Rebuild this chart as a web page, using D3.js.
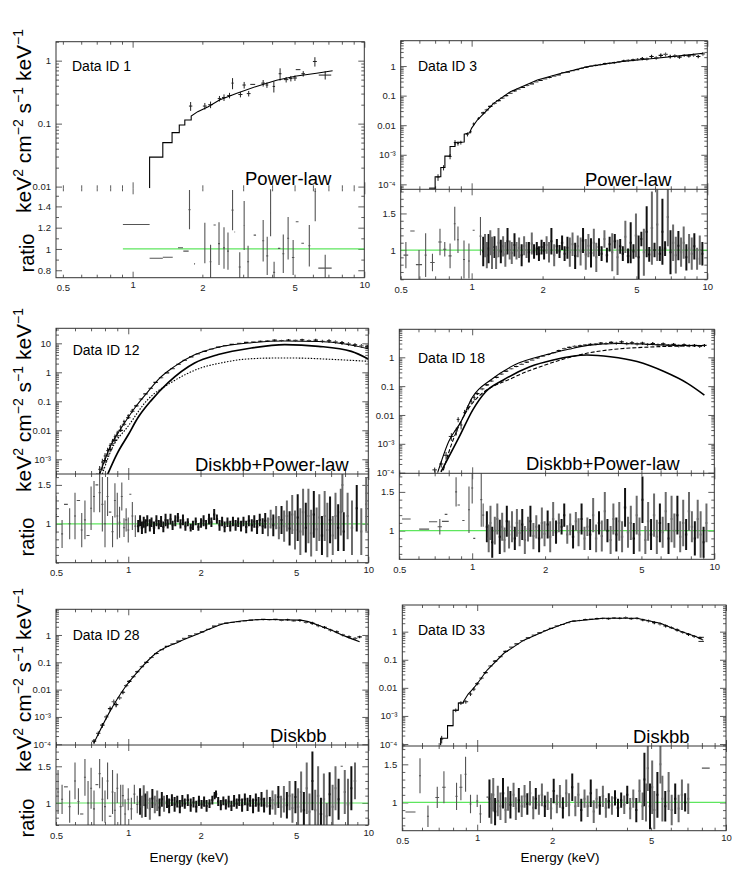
<!DOCTYPE html>
<html>
<head>
<meta charset="utf-8">
<script src="https://cdn.jsdelivr.net/npm/d3@7"></script>
<style>
body { margin: 0; background: #fff; }
svg { font-family: "Liberation Sans", Arial, sans-serif; }
</style>
</head>
<body>
<svg id="chart" width="747" height="872"></svg>
<script>
// ---- tick labels ----
const X_LABELS = [0.5, 1, 2, 5, 10];
const LOG_LABELS = {"10": "10", "1": "1", "0.1": "0.1", "0.01": "0.01", "0.001": "10\u207B\u00B3", "0.0001": "10\u207B\u2074"};

// ---- Data ID 1 (power-law) ----
const p1Model = [[1.184,0.0094],[1.184,0.0294],[1.35,0.0294],[1.35,0.05],[1.48,0.05],[1.48,0.072],[1.59,0.072],[1.59,0.095],[1.68,0.095],[1.68,0.114],[1.79,0.114],[1.79,0.132],[1.91,0.155],[2.12,0.186],[2.37,0.238],[2.8,0.30],[3.42,0.39],[4.18,0.49],[5.1,0.57],[6.22,0.63],[7.3,0.69]];
// [E, dE, flux, fracErr]
const p1Spec = [[1.78,0.03,0.19,0.16],[2.05,0.04,0.19,0.12],[2.17,0.05,0.2,0.12],[2.37,0.04,0.25,0.1],[2.48,0.05,0.26,0.12],[2.62,0.06,0.28,0.1],[2.7,0.03,0.44,0.2],[2.92,0.06,0.29,0.1],[3.03,0.05,0.41,0.12],[3.17,0.06,0.3,0.1],[3.3,0.08,0.42,0],[3.66,0.07,0.44,0.12],[3.8,0.05,0.41,0.1],[4.07,0.05,0.39,0.2],[4.33,0.06,0.62,0.22],[4.6,0.1,0.5,0.1],[4.82,0.08,0.52,0.1],[5.02,0.1,0.53,0.1],[5.18,0.12,0.72,0],[5.45,0.1,0.62,0.1],[6.12,0.12,0.97,0.17],[6.78,0.42,0.59,0.15]];
// [E, dE, ratio, err]
const p1Ratio = [[1.046,0.138,1.23,0],[1.267,0.083,0.913,0],[1.42,0.07,0.922,0],[1.61,0.04,1.012,0],[1.7,0.045,0.98,0],[1.76,0,1.37,0.185],[1.85,0.01,0.86,0],[2.05,0.01,1.056,0.19],[2.17,0.02,0.88,0.16],[2.26,0.025,1.225,0],[2.36,0,1.05,0.2],[2.48,0,1.01,0.195],[2.58,0,0.98,0.175],[2.7,0,1.365,0.19],[2.76,0.01,1.16,0],[2.9,0.03,0.83,0.14],[3.03,0.02,1.22,0.23],[3.15,0,0.88,0.15],[3.37,0.04,1.13,0],[3.66,0,1.077,0.195],[3.81,0,0.935,0.18],[3.94,0.02,1.34,0.22],[4.08,0,0.78,0.1],[4.29,0.05,1.006,0],[4.47,0,0.955,0.18],[4.69,0,1.1,0.2],[4.93,0.06,0.92,0.165],[5.13,0.07,1.256,0],[5.42,0.07,1.053,0],[5.79,0,1.03,0.195],[6.14,0.05,1.54,0.28],[6.78,0.45,0.82,0.125]];

// ---- Data ID 3 (power-law) ----
const p2Model = [[0.66,7e-5],[0.7,7e-5],[0.7,1.8e-4],[0.74,1.8e-4],[0.74,3.7e-4],[0.77,3.7e-4],[0.77,9e-4],[0.81,9e-4],[0.81,1.9e-3],[0.85,1.9e-3],[0.85,2.6e-3],[0.93,2.7e-3],[0.93,5e-3],[0.98,5.5e-3],[1.0,8e-3],[1.057,0.015],[1.24,0.055],[1.46,0.136],[1.9,0.34],[2.38,0.56],[3.09,0.95],[4.27,1.4],[5.9,1.8],[8.16,2.35],[9.6,2.7]];
const p2SpecLow = [[0.68,0.02,7.5e-5,0],[0.72,0.012,1.75e-4,0.25],[0.76,0.012,3.7e-4,0.2],[0.81,0.012,8.8e-4,0.2],[0.85,0.01,2.6e-3,0.2],[0.875,0.01,2.4e-3,0.15],[0.9,0.012,2.6e-3,0.15],[0.96,0.012,4.9e-3,0.15],[0.99,0.01,6e-3,0.12],[1.02,0.012,0.011,0.12],[1.07,0.012,0.017,0.1]];
// [E, flux, fracErr]
const p2Spec = [[1.12,0.026,0.1],[1.16,0.033,0.1],[1.2,0.043,0.08],[1.25,0.055,0.08],[1.3,0.068,0.07],[1.35,0.082,0.07],[1.4,0.1,0.06],[1.46,0.12,0.06],[1.52,0.145,0.06],[1.58,0.165,0.05],[1.65,0.19,0.05],[1.72,0.22,0.05],[1.8,0.25,0.05],[1.88,0.29,0.05],[1.96,0.33,0.05],[2.05,0.37,0.05],[2.14,0.41,0.05],[2.24,0.46,0.05],[2.34,0.5,0.05],[2.45,0.6,0.05],[2.56,0.62,0.05],[2.68,0.7,0.05],[2.8,0.76,0.06],[2.93,0.84,0.06],[3.07,0.92,0.06],[3.21,1.0,0.06],[3.36,1.06,0.07],[3.52,1.12,0.07],[3.68,1.2,0.07],[3.85,1.25,0.08],[4.03,1.3,0.08],[4.22,1.38,0.08],[4.42,1.5,0.09],[4.62,1.55,0.09],[4.84,1.62,0.1],[5.06,1.7,0.1],[5.3,1.8,0.12],[5.54,1.75,0.12],[5.8,2.1,0.14],[6.07,1.9,0.14],[6.35,2.3,0.16],[6.65,2.5,0.16],[6.96,2.1,0.15],[7.28,2.2,0.14],[7.62,2.0,0.12],[7.98,2.3,0.12],[8.35,2.2,0.12],[8.74,2.35,0.12],[9.15,2.1,0.12],[9.58,2.6,0.14]];
const p2RatioLow = [[0.526,0.012,0.93,0.18],[0.561,0.012,1.26,0],[0.598,0.018,0.8,0.2],[0.638,0,0.93,0.3],[0.682,0.015,0.83,0.12],[0.734,0.012,1.11,0.18],[0.769,0.012,1.01,0.1],[0.81,0.012,0.92,0.17],[0.848,0.008,1.36,0.23],[0.875,0.008,1.14,0.18],[0.928,0,0.87,0.26],[0.974,0,0.85,0.24],[1.02,0.01,1.27,0],[1.09,0,1.19,0.26]];
// [E, ratio, err]
const p2Ratio = [[1.12,0.98,0.2],[1.14,1.06,0.16],[1.16,0.93,0.18],[1.18,1.02,0.2],[1.2,1.1,0.17],[1.22,0.96,0.22],[1.25,1.04,0.15],[1.27,0.9,0.16],[1.3,1.1,0.2],[1.33,0.98,0.16],[1.36,1.05,0.14],[1.39,0.94,0.17],[1.42,1.12,0.18],[1.45,1.0,0.13],[1.48,0.96,0.15],[1.52,1.07,0.16],[1.55,0.99,0.12],[1.59,1.03,0.14],[1.63,0.93,0.15],[1.67,1.06,0.13],[1.71,1.0,0.11],[1.75,0.97,0.14],[1.8,1.09,0.15],[1.84,0.98,0.1],[1.89,1.02,0.09],[1.93,0.95,0.1],[1.98,1.04,0.1],[2.03,0.99,0.12],[2.08,1.07,0.12],[2.13,0.97,0.14],[2.18,1.12,0.18],[2.24,0.93,0.15],[2.3,1.05,0.1],[2.36,0.98,0.09],[2.42,1.1,0.1],[2.48,0.95,0.1],[2.55,1.03,0.15],[2.61,0.97,0.2],[2.68,1.08,0.16],[2.75,0.92,0.18],[2.82,1.05,0.15],[2.9,0.98,0.19],[2.97,1.13,0.17],[3.05,0.94,0.21],[3.13,1.06,0.16],[3.21,0.96,0.2],[3.3,1.1,0.19],[3.38,0.9,0.2],[3.47,1.04,0.12],[3.56,0.95,0.1],[3.66,1.15,0.12],[3.75,0.93,0.1],[3.85,1.08,0.1],[3.95,0.97,0.26],[4.05,1.12,0.1],[4.16,0.9,0.24],[4.27,1.05,0.1],[4.38,0.95,0.1],[4.49,1.18,0.22],[4.61,0.92,0.1],[4.73,1.1,0.28],[4.86,0.98,0.1],[4.98,1.2,0.3],[5.11,0.9,0.3],[5.25,1.15,0.1],[5.38,0.97,0.32],[5.53,1.25,0.35],[5.67,0.94,0.1],[5.82,1.3,0.5],[5.97,1.0,0.1],[6.13,1.35,0.5],[6.29,0.95,0.1],[6.45,1.25,0.45],[6.62,1.02,0.1],[6.8,1.45,0.4],[6.98,0.97,0.3],[7.16,1.1,0.25],[7.35,0.93,0.25],[7.54,1.06,0.2],[7.74,0.97,0.2],[7.94,1.1,0.22],[8.15,0.9,0.18],[8.37,1.02,0.2],[8.59,0.95,0.22],[8.81,1.05,0.18],[9.05,0.88,0.15],[9.29,1.0,0.2],[9.53,0.95,0.16]];

// ---- Data ID 12 (diskbb + power-law) ----
const p3Total = [[0.76,3e-4],[0.852,3.4e-3],[0.938,0.0125],[1.066,0.06],[1.25,0.3],[1.33,0.55],[1.56,1.6],[1.89,4.0],[2.37,7.3],[3.26,10.5],[4.49,12.0],[6.2,11.5],[8.0,9.5],[10,6.5]];
const p3Disk = [[0.82,3e-4],[0.9,1.6e-3],[1.0,7e-3],[1.1,0.028],[1.25,0.11],[1.47,0.45],[1.89,2.1],[2.37,4.1],[3.26,6.9],[4.49,9],[6.2,7.9],[8.5,5.3],[10,2.9]];
const p3Pow = [[0.78,3.1e-4],[0.85,2.1e-3],[1.0,0.014],[1.2,0.11],[1.5,0.43],[2.0,1.4],[2.5,2.2],[3,2.8],[4,3.1],[5,3.1],[7,2.8],[10,2.4]];
const p3SpecLow = [[0.74,0.01,2.5e-4,0.3],[0.76,0.01,4.5e-4,0.3],[0.78,0.01,8e-4,0.3],[0.8,0.01,1.3e-3,0.25],[0.82,0.01,2e-3,0.25],[0.84,0.01,3e-3,0.2],[0.86,0.01,4.2e-3,0.2],[0.88,0.01,6e-3,0.2],[0.9,0.01,8e-3,0.2],[0.93,0.01,0.013,0.15],[0.96,0.01,0.02,0.15],[1.0,0.01,0.032,0.12],[1.04,0.01,0.05,0.1]];
const p3Spec = [[0.76,3e-4,0.2],[0.78,5e-4,0.2],[0.8,9e-4,0.2],[0.82,1.5e-3,0.2],[0.84,2.2e-3,0.18],[0.86,3.5e-3,0.18],[0.88,4.5e-3,0.15],[0.9,6.5e-3,0.15],[0.93,0.01,0.12],[0.96,0.016,0.12],[1.0,0.027,0.1],[1.04,0.045,0.1],[1.08,0.07,0.08],[1.13,0.12,0.08],[1.18,0.18,0.06],[1.24,0.28,0.06],[1.3,0.45,0.05],[1.37,0.65,0.05],[1.45,0.95,0.04],[1.53,1.35,0.04],[1.62,1.9,0.04],[1.72,2.6,0.04],[1.83,3.4,0.04],[1.95,4.3,0.04],[2.08,5.3,0.04],[2.22,6.3,0.04],[2.37,7.4,0.04],[2.53,8.3,0.04],[2.7,9.2,0.04],[2.9,10,0.05],[3.1,10.8,0.05],[3.32,11.3,0.05],[3.55,11.8,0.06],[3.8,12.2,0.06],[4.07,12.8,0.07],[4.35,12.5,0.07],[4.65,13,0.08],[4.97,12.6,0.08],[5.3,13.2,0.1],[5.66,12.4,0.1],[6.04,12.8,0.12],[6.44,11.8,0.12],[6.86,12.2,0.14],[7.3,11.2,0.14],[7.77,10.5,0.15],[8.27,9.6,0.15],[8.8,8.8,0.15],[9.36,8.2,0.15],[9.9,7.6,0.15]];
const p3RatioLow = [[0.5,0,1.12,0.24],[0.53,0,0.87,0.18],[0.55,0.01,1.25,0],[0.57,0,1.0,0.2],[0.6,0,1.1,0.3],[0.62,0.01,1.3,0],[0.64,0,0.92,0.22],[0.66,0,1.05,0.25],[0.68,0.01,0.85,0],[0.7,0,1.2,0.28],[0.72,0,1.35,0.2],[0.74,0.01,1.5,0],[0.76,0,1.4,0.25],[0.78,0,1.25,0.35],[0.8,0,1.0,0.3],[0.82,0,1.35,0.25],[0.84,0.01,1.15,0],[0.86,0,0.9,0.2],[0.88,0,1.3,0.22],[0.9,0,1.1,0.3],[0.92,0,1.02,0.2],[0.94,0,1.35,0.18],[0.96,0,0.95,0.12],[0.98,0,1.05,0.15],[1.0,0,0.92,0.16],[1.02,0.01,1.38,0],[1.04,0,1.1,0.18],[1.07,0,0.97,0.14]];
const p3Ratio = [[1.1,0.97,0.08],[1.12,1.04,0.07],[1.14,0.95,0.08],[1.16,1.02,0.07],[1.18,0.97,0.09],[1.2,1.04,0.07],[1.23,0.98,0.08],[1.25,1.02,0.06],[1.28,0.95,0.08],[1.31,1.04,0.07],[1.34,0.99,0.06],[1.37,1.03,0.07],[1.4,0.96,0.07],[1.43,1.05,0.08],[1.46,1.0,0.06],[1.5,1.06,0.07],[1.53,0.98,0.06],[1.57,1.04,0.07],[1.61,1.08,0.06],[1.65,1.0,0.06],[1.69,1.05,0.07],[1.73,0.97,0.06],[1.77,1.02,0.05],[1.82,0.95,0.05],[1.86,0.98,0.06],[1.91,1.03,0.05],[1.96,0.96,0.05],[2.01,1.01,0.06],[2.06,1.04,0.07],[2.11,0.99,0.06],[2.17,1.06,0.07],[2.22,1.02,0.06],[2.28,1.12,0.07],[2.34,1.06,0.06],[2.4,0.98,0.07],[2.46,1.03,0.06],[2.52,0.96,0.07],[2.59,1.02,0.06],[2.66,0.97,0.07],[2.73,1.03,0.06],[2.8,0.98,0.07],[2.87,1.02,0.06],[2.95,0.97,0.07],[3.02,1.03,0.06],[3.1,0.96,0.08],[3.18,1.04,0.07],[3.27,0.98,0.08],[3.35,1.03,0.08],[3.44,0.96,0.09],[3.53,1.05,0.08],[3.63,0.97,0.1],[3.72,1.04,0.1],[3.82,0.96,0.12],[3.92,1.06,0.12],[4.02,0.98,0.14],[4.13,1.08,0.15],[4.24,0.95,0.15],[4.35,1.05,0.18],[4.46,0.97,0.2],[4.58,1.1,0.2],[4.7,0.94,0.22],[4.82,1.12,0.25],[4.95,0.92,0.25],[5.08,1.08,0.3],[5.21,0.9,0.3],[5.35,1.15,0.3],[5.49,0.95,0.32],[5.63,1.1,0.35],[5.78,0.88,0.3],[5.93,1.12,0.3],[6.09,0.93,0.28],[6.25,1.08,0.3],[6.41,0.85,0.25],[6.58,1.1,0.32],[6.75,0.92,0.35],[6.93,1.05,0.3],[7.11,0.85,0.25],[7.3,1.1,0.3],[7.49,0.95,0.3],[7.68,1.15,0.3],[7.8,1.5,0.35],[7.9,0.9,0.25],[8.2,1.1,0.3],[8.55,0.95,0.35],[8.95,1.2,0.3],[9.35,0.9,0.3],[9.8,1.25,0.35]];

// ---- Data ID 18 (diskbb + power-law) ----
const p4Total = [[0.72,1e-4],[0.8,1.2e-3],[0.9,6e-3],[1.0,0.04],[1.2,0.17],[1.5,0.55],[2,1.2],[2.5,1.9],[3,2.6],[4,3.0],[5,2.9],[6,2.7],[7,2.6],[9,2.55]];
const p4Disk = [[0.743,1.07e-4],[0.886,1.8e-3],[1.006,0.015],[1.14,0.065],[1.34,0.16],[1.73,0.47],[2.16,0.81],[2.98,1.2],[3.72,1.05],[4.8,0.71],[6.2,0.32],[7.75,0.125],[9.1,0.049]];
const p4Pow = [[0.76,1.2e-4],[0.8,5e-4],[1.0,0.025],[1.5,0.21],[2.0,0.54],[3,1.4],[4,1.95],[5,2.2],[6,2.35],[9,2.5]];
const p4SpecLow = [[0.7,0.015,1.25e-4,0.2],[0.745,0.015,2e-4,0.25],[0.78,0.02,4e-4,0.3],[0.82,0.02,1.8e-3,0.3],[0.86,0.015,2.8e-3,0.3],[0.875,0.012,7e-3,0.2],[0.9,0.012,4.5e-3,0.3],[0.93,0.012,0.012,0.25],[0.96,0.012,0.018,0.2],[0.99,0.012,0.03,0.2],[1.02,0.012,0.04,0.2]];
const p4Spec = [[1.05,0.055,0.1],[1.1,0.08,0.1],[1.15,0.11,0.08],[1.2,0.15,0.08],[1.26,0.2,0.07],[1.32,0.26,0.07],[1.38,0.33,0.06],[1.45,0.4,0.06],[1.52,0.48,0.06],[1.6,0.57,0.06],[1.68,0.68,0.06],[1.77,0.8,0.06],[1.86,0.95,0.06],[1.96,1.1,0.06],[2.06,1.25,0.06],[2.17,1.45,0.06],[2.28,1.7,0.07],[2.4,2.0,0.07],[2.52,2.2,0.07],[2.65,2.4,0.08],[2.79,2.5,0.08],[2.93,2.7,0.08],[3.08,2.8,0.09],[3.24,2.9,0.09],[3.4,3.1,0.1],[3.57,3.0,0.1],[3.75,3.3,0.1],[3.94,3.1,0.12],[4.14,3.4,0.12],[4.35,3.0,0.12],[4.57,3.2,0.12],[4.8,2.9,0.12],[5.05,3.1,0.12],[5.3,2.8,0.12],[5.57,3.0,0.12],[5.85,2.7,0.12],[6.15,2.9,0.12],[6.46,2.6,0.12],[6.79,2.8,0.12],[7.13,2.5,0.12],[7.5,2.7,0.12],[7.88,2.55,0.12],[8.28,2.6,0.12],[8.7,2.4,0.12],[9.1,2.6,0.12]];
const p4RatioLow = [[0.535,0.022,1.15,0],[0.634,0.03,1.02,0],[0.69,0.027,1.115,0],[0.735,0.015,1.05,0.1],[0.775,0.025,1.12,0],[0.78,0.01,1.21,0],[0.858,0,1.5,0.19],[0.88,0.01,1.33,0],[0.92,0.01,1.13,0],[0.97,0,1.27,0.3],[1.0,0,1.55,0.2],[1.02,0.01,0.9,0],[1.09,0,1.4,0.35],[1.11,0,1.2,0.15]];
const p4Ratio = [[1.15,1.05,0.2],[1.17,0.9,0.18],[1.19,1.1,0.22],[1.21,0.85,0.2],[1.24,1.0,0.18],[1.27,1.15,0.2],[1.3,0.92,0.22],[1.33,1.05,0.18],[1.36,0.88,0.16],[1.39,1.12,0.2],[1.42,0.95,0.18],[1.46,1.05,0.2],[1.5,0.9,0.15],[1.53,1.1,0.18],[1.57,0.97,0.17],[1.61,1.08,0.2],[1.65,0.88,0.18],[1.7,1.02,0.16],[1.74,1.12,0.2],[1.79,0.93,0.17],[1.84,1.05,0.15],[1.89,0.9,0.18],[1.94,1.1,0.2],[1.99,0.96,0.16],[2.05,1.08,0.18],[2.1,0.92,0.2],[2.16,1.15,0.22],[2.22,0.98,0.15],[2.28,1.1,0.12],[2.34,1.05,0.1],[2.4,1.2,0.15],[2.47,0.95,0.12],[2.54,1.08,0.14],[2.61,0.92,0.15],[2.68,1.12,0.12],[2.75,0.98,0.18],[2.83,1.15,0.2],[2.91,0.9,0.15],[2.99,1.05,0.12],[3.07,0.95,0.2],[3.16,1.2,0.22],[3.25,0.9,0.18],[3.34,1.1,0.15],[3.43,0.93,0.2],[3.53,1.25,0.25],[3.62,1.0,0.15],[3.73,0.88,0.18],[3.83,1.15,0.2],[3.94,0.95,0.22],[4.05,1.12,0.25],[4.16,0.92,0.2],[4.28,1.3,0.25],[4.4,0.98,0.2],[4.52,1.1,0.22],[4.65,0.9,0.2],[4.78,1.2,0.25],[4.91,0.95,0.22],[5.05,1.4,0.3],[5.19,0.88,0.18],[5.33,1.12,0.25],[5.48,0.95,0.2],[5.64,1.2,0.28],[5.79,0.92,0.22],[5.96,1.1,0.25],[6.12,0.98,0.2],[6.3,1.25,0.25],[6.47,0.9,0.2],[6.66,1.15,0.3],[6.84,1.0,0.22],[7.04,1.2,0.25],[7.23,0.92,0.2],[7.44,1.1,0.3],[7.65,0.95,0.2],[7.86,1.25,0.25],[8.08,1.05,0.2],[8.31,0.9,0.22],[8.54,1.15,0.25],[8.78,0.95,0.3],[9.03,0.85,0.2],[9.28,1.1,0.25]];

// ---- Data ID 28 (diskbb) ----
const p5Model = [[0.719,1.1e-4],[0.83,1.35e-3],[0.975,0.013],[1.11,0.052],[1.3,0.21],[1.63,0.57],[1.98,1.15],[2.55,2.7],[3.75,3.7],[5.17,3.5],[6.7,1.75],[8.1,0.87],[9.2,0.57]];
const p5Spec = [[0.72,1.3e-4,0.2],[0.75,2.5e-4,0.2],[0.78,5e-4,0.2],[0.81,1e-3,0.2],[0.84,2e-3,0.2],[0.87,3.6e-3,0.2],[0.89,2.8e-3,0.2],[0.92,5e-3,0.15],[0.95,8e-3,0.15],[0.98,0.014,0.12],[1.01,0.02,0.12],[1.05,0.03,0.1],[1.09,0.045,0.1],[1.14,0.07,0.08],[1.19,0.1,0.08],[1.25,0.15,0.06],[1.31,0.21,0.06],[1.38,0.29,0.05],[1.45,0.38,0.05],[1.53,0.47,0.05],[1.62,0.6,0.04],[1.71,0.75,0.04],[1.81,0.92,0.04],[1.92,1.1,0.04],[2.03,1.3,0.04],[2.15,1.6,0.04],[2.28,2.1,0.04],[2.42,2.5,0.04],[2.56,2.7,0.04],[2.72,2.9,0.04],[2.88,3.1,0.05],[3.06,3.3,0.05],[3.24,3.5,0.05],[3.44,3.6,0.06],[3.65,3.7,0.06],[3.87,3.6,0.06],[4.1,3.7,0.07],[4.35,3.4,0.07],[4.61,3.6,0.08],[4.89,3.3,0.08],[5.19,3.4,0.1],[5.5,2.9,0.1],[5.84,2.7,0.12],[6.19,2.2,0.12],[6.57,1.9,0.12],[6.96,1.5,0.12],[7.39,1.3,0.12],[7.83,1.0,0.12],[8.31,0.85,0.12],[8.81,0.75,0.12],[9.2,0.85,0.1]];
const p5RatioLow = [[0.51,0,1.15,0.3],[0.53,0,1.05,0.2],[0.55,0.01,1.22,0],[0.57,0,0.95,0.22],[0.6,0,1.3,0.25],[0.62,0,1.02,0.18],[0.64,0.01,0.85,0],[0.66,0,1.35,0.25],[0.68,0,1.0,0.3],[0.7,0,1.2,0.28],[0.72,0,0.92,0.25],[0.74,0.01,1.25,0],[0.76,0,1.4,0.2],[0.78,0,1.05,0.3],[0.8,0,0.95,0.22],[0.82,0,1.3,0.25],[0.84,0.01,0.82,0],[0.86,0,1.15,0.3],[0.88,0,0.9,0.25],[0.9,0,1.2,0.2],[0.93,0,0.95,0.3],[0.95,0,1.1,0.15],[0.97,0,0.85,0.2],[1.0,0,1.05,0.15],[1.03,0,0.92,0.15],[1.06,0,1.12,0.13],[1.09,0,0.98,0.12],[7.75,0.08,1.5,0]];
const p5Ratio = [[1.12,1.02,0.18],[1.14,0.95,0.15],[1.16,1.1,0.14],[1.18,0.97,0.16],[1.2,1.04,0.12],[1.23,0.92,0.15],[1.26,1.06,0.13],[1.29,0.98,0.12],[1.32,1.03,0.14],[1.35,0.94,0.12],[1.38,1.05,0.1],[1.41,0.99,0.11],[1.45,1.02,0.09],[1.48,0.96,0.1],[1.52,1.04,0.08],[1.56,0.98,0.1],[1.6,1.02,0.08],[1.64,0.95,0.09],[1.68,1.03,0.08],[1.72,0.99,0.07],[1.77,1.04,0.08],[1.82,0.97,0.09],[1.87,1.01,0.07],[1.92,0.95,0.08],[1.97,1.03,0.07],[2.02,0.98,0.06],[2.07,1.02,0.07],[2.12,0.96,0.08],[2.18,0.99,0.06],[2.24,1.04,0.06],[2.29,1.1,0.05],[2.32,1.12,0.05],[2.37,1.02,0.06],[2.43,0.97,0.07],[2.49,1.03,0.06],[2.55,0.98,0.07],[2.62,1.02,0.08],[2.69,0.96,0.07],[2.76,1.03,0.08],[2.83,0.99,0.07],[2.9,1.04,0.08],[2.98,0.97,0.09],[3.06,1.05,0.08],[3.14,0.98,0.09],[3.22,1.03,0.08],[3.31,0.96,0.1],[3.4,1.04,0.09],[3.49,0.98,0.1],[3.59,1.05,0.1],[3.68,0.97,0.1],[3.78,1.06,0.12],[3.89,0.96,0.12],[3.99,1.04,0.13],[4.1,0.98,0.14],[4.22,1.08,0.15],[4.33,0.95,0.15],[4.45,1.05,0.18],[4.58,0.97,0.18],[4.7,1.1,0.2],[4.83,0.93,0.2],[4.97,1.08,0.22],[5.1,0.95,0.25],[5.25,1.15,0.28],[5.39,0.9,0.25],[5.54,1.2,0.35],[5.69,0.88,0.25],[5.85,1.3,0.4],[6.01,0.9,0.28],[6.18,1.1,0.4],[6.35,0.85,0.22],[6.53,1.05,0.35],[6.71,0.82,0.18],[6.9,1.12,0.3],[7.1,0.95,0.3],[7.3,1.2,0.3],[7.52,1.05,0.28],[7.98,1.15,0.3],[8.23,0.98,0.35],[8.5,1.2,0.3],[8.8,1.3,0.25]];

// ---- Data ID 33 (diskbb) ----
const p6Model = [[0.713,9e-5],[0.713,1.6e-4],[0.76,1.6e-4],[0.76,4.5e-4],[0.8,4.5e-4],[0.8,1.6e-3],[0.84,1.6e-3],[0.84,2.9e-3],[0.88,2.9e-3],[0.88,3.2e-3],[0.92,6e-3],[0.96,9e-3],[1.0,0.014],[1.097,0.043],[1.28,0.17],[1.54,0.5],[1.91,1.15],[2.37,2.3],[3.22,3.0],[4.38,3.0],[5.45,2.0],[6.35,1.15],[7.6,0.66],[8.1,0.5]];
const p6SpecLow = [[0.72,0.01,1.5e-4,0.3],[0.78,0.02,4.5e-4,0],[0.82,0.02,1.6e-3,0.15],[0.86,0.02,2.9e-3,0.15],[0.9,0.02,3.2e-3,0.15],[0.94,0.015,6e-3,0.15],[0.97,0.015,9e-3,0.15],[7.95,0.2,0.63,0],[7.95,0.2,0.45,0]];
const p6Spec = [[1.0,0.014,0.12],[1.04,0.022,0.1],[1.08,0.035,0.1],[1.13,0.06,0.08],[1.18,0.09,0.08],[1.24,0.13,0.07],[1.3,0.2,0.06],[1.37,0.28,0.06],[1.44,0.37,0.05],[1.52,0.48,0.05],[1.6,0.6,0.05],[1.69,0.75,0.05],[1.78,0.9,0.05],[1.88,1.1,0.05],[1.98,1.3,0.05],[2.09,1.6,0.05],[2.2,1.8,0.05],[2.32,2.1,0.05],[2.45,2.4,0.06],[2.58,2.5,0.06],[2.72,2.7,0.06],[2.87,2.8,0.06],[3.03,2.9,0.07],[3.19,3.0,0.07],[3.37,2.9,0.08],[3.55,3.1,0.08],[3.74,3.0,0.08],[3.95,3.2,0.09],[4.16,2.9,0.09],[4.39,3.0,0.1],[4.63,2.6,0.1],[4.88,2.4,0.12],[5.15,2.1,0.12],[5.43,1.9,0.12],[5.72,1.6,0.12],[6.03,1.4,0.12],[6.36,1.15,0.12],[6.7,0.95,0.12],[7.07,0.8,0.12],[7.45,0.68,0.12],[7.86,0.6,0.1]];
const p6RatioLow = [[0.54,0.025,0.876,0],[0.589,0,1.35,0.23],[0.634,0,0.82,0.14],[0.691,0.012,1.066,0.14],[0.735,0.012,1.2,0.21],[0.826,0,1.08,0.18],[0.86,0.012,1.2,0.17],[0.898,0,1.37,0.23],[0.94,0,0.98,0.12],[1.0,0.01,1.02,0.08],[1.03,0,0.85,0.12],[1.1,0.01,1.07,0],[8.3,0.3,1.45,0]];
const p6Ratio = [[1.12,1.05,0.25],[1.14,0.92,0.2],[1.16,1.1,0.22],[1.18,0.88,0.18],[1.21,1.02,0.2],[1.24,0.95,0.18],[1.27,1.12,0.2],[1.3,0.9,0.17],[1.33,1.05,0.16],[1.36,0.97,0.18],[1.4,1.1,0.16],[1.43,0.92,0.15],[1.47,1.03,0.16],[1.51,0.95,0.14],[1.55,1.08,0.15],[1.59,0.98,0.14],[1.63,1.12,0.16],[1.68,0.93,0.15],[1.72,1.05,0.14],[1.77,0.97,0.13],[1.82,1.1,0.15],[1.87,0.95,0.14],[1.92,1.02,0.12],[1.98,0.92,0.14],[2.03,1.15,0.16],[2.09,0.98,0.12],[2.15,1.08,0.15],[2.21,0.93,0.14],[2.28,1.12,0.18],[2.34,0.97,0.15],[2.41,1.2,0.18],[2.48,0.95,0.13],[2.55,1.1,0.16],[2.62,0.9,0.15],[2.7,1.05,0.12],[2.78,0.95,0.14],[2.86,1.12,0.18],[2.94,0.88,0.15],[3.02,1.05,0.13],[3.11,0.96,0.12],[3.2,1.08,0.14],[3.29,0.93,0.13],[3.38,1.02,0.1],[3.48,0.96,0.12],[3.58,1.06,0.1],[3.68,0.93,0.12],[3.79,1.03,0.1],[3.9,0.97,0.12],[4.01,1.1,0.12],[4.12,0.92,0.14],[4.24,1.05,0.12],[4.36,0.9,0.16],[4.49,1.15,0.15],[4.62,0.95,0.18],[4.7,1.3,0.35],[4.77,1.0,0.25],[4.85,1.45,0.3],[4.95,0.95,0.3],[5.05,1.2,0.35],[5.15,0.9,0.25],[5.3,1.1,0.3],[5.45,1.5,0.25],[5.55,1.05,0.3],[5.7,0.95,0.2],[5.88,1.15,0.25],[6.05,0.9,0.2],[6.25,1.05,0.2],[6.45,0.92,0.18],[6.65,1.1,0.2],[6.85,1.0,0.12],[7.05,1.05,0.2]];

// ---- layout of the six panels ----
const panels = [
  {name: "Data ID 1", model: "Power-law", left: 56, right: 364.3, top: 41.7, mid: 188.3, bottom: 277.7,
   xDom: [0.467, 10], yDom: [0.0094, 2.0], rDom: [0.73, 1.57], rLabels: [0.8, 1, 1.2, 1.4], rStep: 0.1,
   divider: false, unityFrom: 0.908, idX: 72, idY: 71, modelX: 245,
   lines: [{pts: p1Model, step: true}], specLow: p1Spec, spec: [], ratioLow: p1Ratio, ratio: []},
  {name: "Data ID 3", model: "Power-law", left: 400.7, right: 707.3, top: 40.7, mid: 189.3, bottom: 279.3,
   xDom: [0.5, 10], yDom: [6.8e-5, 7.2], rDom: [0.6, 1.83], rLabels: [1, 1.5], rStep: 0.1,
   divider: true, unityFrom: 0.5, idX: 418, idY: 71, modelX: 585,
   lines: [{pts: p2Model, step: true}], specLow: p2SpecLow, spec: p2Spec, ratioLow: p2RatioLow, ratio: p2Ratio},
  {name: "Data ID 12", model: "Diskbb+Power-law", left: 56, right: 368.3, top: 328.3, mid: 474, bottom: 562.7,
   xDom: [0.5, 10], yDom: [3.1e-4, 33], rDom: [0.5, 1.64], rLabels: [1, 1.5], rStep: 0.1,
   divider: true, unityFrom: 0.5, idX: 72.7, idY: 355, modelX: 195,
   lines: [{pts: p3Total}, {pts: p3Disk, w: 1.7}, {pts: p3Pow, dash: "1.5,1.5"}],
   specLow: p3SpecLow, spec: p3Spec, ratioLow: p3RatioLow, ratio: p3Ratio},
  {name: "Data ID 18", model: "Diskbb+Power-law", left: 399.3, right: 714.3, top: 329.3, mid: 473.3, bottom: 559.3,
   xDom: [0.5, 10], yDom: [9.5e-5, 9.35], rDom: [0.63, 1.74], rLabels: [1, 1.5], rStep: 0.1,
   divider: true, unityFrom: 0.5, idX: 418, idY: 363.3, modelX: 526,
   lines: [{pts: p4Total}, {pts: p4Disk, w: 1.6}, {pts: p4Pow, dash: "4,2"}],
   specLow: p4SpecLow, spec: p4Spec, ratioLow: p4RatioLow, ratio: p4Ratio},
  {name: "Data ID 28", model: "Diskbb", left: 56, right: 368.3, top: 609.3, mid: 745, bottom: 825,
   xDom: [0.5, 10], yDom: [9.4e-5, 8.7], rDom: [0.7, 1.79], rLabels: [1, 1.5], rStep: 0.1,
   divider: true, unityFrom: 0.5, idX: 72.7, idY: 640, modelX: 270,
   lines: [{pts: p5Model}], specLow: [], spec: p5Spec, ratioLow: p5RatioLow, ratio: p5Ratio},
  {name: "Data ID 33", model: "Diskbb", left: 402.3, right: 726, top: 605, mid: 746, bottom: 830.7,
   xDom: [0.5, 10], yDom: [8.5e-5, 8.9], rDom: [0.63, 1.74], rLabels: [1, 1.5], rStep: 0.1,
   divider: true, unityFrom: 0.5, idX: 418, idY: 635, modelX: 633,
   lines: [{pts: p6Model, step: true}], specLow: p6SpecLow, spec: p6Spec, ratioLow: p6RatioLow, ratio: p6Ratio}
];

const svg = d3.select("#chart");
const FRAME = "#333";
const TICK_FONT = 9.5;

function isDecade(v) {
  const l = Math.log10(v);
  return Math.abs(l - Math.round(l)) < 1e-6;
}

function styleAxis(sel) {
  sel.select(".domain").remove();
  sel.selectAll(".tick line").attr("stroke", FRAME).attr("stroke-width", 0.8);
  sel.selectAll(".tick text").attr("font-size", TICK_FONT).attr("fill", "#222")
    .attr("font-family", "Liberation Sans, Arial, sans-serif");
}

function addAxis(g, axis, tx, ty) {
  g.append("g").attr("transform", `translate(${tx},${ty})`).call(axis).call(styleAxis);
}

function drawPanel(p, i) {
  const g = svg.append("g");
  const x = d3.scaleLog().domain(p.xDom).range([p.left, p.right]);
  const y = d3.scaleLog().domain(p.yDom).range([p.mid, p.top]);
  const r = d3.scaleLinear().domain(p.rDom).range([p.bottom, p.mid]);

  // clip regions
  const defs = svg.append("defs");
  defs.append("clipPath").attr("id", "cm" + i).append("rect")
    .attr("x", p.left).attr("y", p.top).attr("width", p.right - p.left).attr("height", p.mid - p.top);
  defs.append("clipPath").attr("id", "cr" + i).append("rect")
    .attr("x", p.left).attr("y", p.mid).attr("width", p.right - p.left).attr("height", p.bottom - p.mid);

  // ---- ticks ----
  const xAll = x.ticks();
  const xMajor = xAll.filter(v => v === 1 || v === 10);
  const xMinor = xAll.filter(v => v !== 1 && v !== 10);
  const fmtX = v => X_LABELS.includes(v) ? String(v) : "";
  addAxis(g, d3.axisBottom(x).tickValues(xMajor).tickSize(-6).tickPadding(4).tickFormat(fmtX), 0, p.bottom);
  addAxis(g, d3.axisBottom(x).tickValues(xMinor).tickSize(-3).tickPadding(7).tickFormat(fmtX), 0, p.bottom);
  addAxis(g, d3.axisTop(x).tickValues(xMajor).tickSize(-6).tickFormat(""), 0, p.top);
  addAxis(g, d3.axisTop(x).tickValues(xMinor).tickSize(-3).tickFormat(""), 0, p.top);
  addAxis(g, d3.axisBottom(x).tickValues(xMajor).tickSize(-6).tickFormat(""), 0, p.mid);
  addAxis(g, d3.axisBottom(x).tickValues(xMinor).tickSize(-3).tickFormat(""), 0, p.mid);
  addAxis(g, d3.axisTop(x).tickValues(xMajor).tickSize(-6).tickFormat(""), 0, p.mid);
  addAxis(g, d3.axisTop(x).tickValues(xMinor).tickSize(-3).tickFormat(""), 0, p.mid);

  const yAll = y.ticks();
  const yMajor = yAll.filter(isDecade);
  const yMinor = yAll.filter(v => !isDecade(v));
  const fmtY = v => LOG_LABELS[String(+v.toPrecision(6))] || "";
  addAxis(g, d3.axisLeft(y).tickValues(yMajor).tickSize(-6).tickPadding(5).tickFormat(fmtY), p.left, 0);
  addAxis(g, d3.axisLeft(y).tickValues(yMinor).tickSize(-3).tickFormat(""), p.left, 0);
  addAxis(g, d3.axisRight(y).tickValues(yMajor).tickSize(-6).tickFormat(""), p.right, 0);
  addAxis(g, d3.axisRight(y).tickValues(yMinor).tickSize(-3).tickFormat(""), p.right, 0);

  const rAll = d3.range(Math.ceil(p.rDom[0] / p.rStep - 1e-6), Math.floor(p.rDom[1] / p.rStep + 1e-6) + 1)
    .map(k => +(k * p.rStep).toFixed(2));
  const rMajor = rAll.filter(v => p.rLabels.includes(v));
  const rMinor = rAll.filter(v => !p.rLabels.includes(v));
  addAxis(g, d3.axisLeft(r).tickValues(rMajor).tickSize(-6).tickPadding(5).tickFormat(d => String(d)), p.left, 0);
  addAxis(g, d3.axisLeft(r).tickValues(rMinor).tickSize(-3).tickFormat(""), p.left, 0);
  addAxis(g, d3.axisRight(r).tickValues(rMajor).tickSize(-6).tickFormat(""), p.right, 0);
  addAxis(g, d3.axisRight(r).tickValues(rMinor).tickSize(-3).tickFormat(""), p.right, 0);

  // ---- main panel: data crosses + model lines ----
  const gm = g.append("g").attr("clip-path", `url(#cm${i})`);
  gm.selectAll(null).data(p.specLow).join("path")
    .attr("d", d => {
      const cx = x(d[0]), cy = y(d[2]);
      let s = `M${x(d[0] - d[1])},${cy}H${x(d[0] + d[1])}`;
      if (d[3] > 0) s += `M${cx},${y(d[2] * (1 + d[3]))}V${y(d[2] * (1 - d[3]))}`;
      return s;
    })
    .attr("fill", "none").attr("stroke", "#222").attr("stroke-width", 1);
  gm.selectAll(null).data(p.spec).join("path")
    .attr("d", d => {
      const cx = x(d[0]), cy = y(d[1]);
      return `M${cx - 2.2},${cy}H${cx + 2.2}M${cx},${y(d[1] * (1 + d[2]))}V${y(d[1] * (1 - d[2]))}`;
    })
    .attr("fill", "none").attr("stroke", (d, k) => k % 2 ? "#555" : "#111").attr("stroke-width", 1.2);

  const smooth = d3.line().curve(d3.curveMonotoneX).x(d => x(d[0])).y(d => y(d[1]));
  const straight = d3.line().x(d => x(d[0])).y(d => y(d[1]));
  p.lines.forEach(l => {
    gm.append("path").datum(l.pts).attr("d", l.step ? straight : smooth)
      .attr("fill", "none").attr("stroke", "#000").attr("stroke-width", l.w || 1.1)
      .attr("stroke-dasharray", l.dash || null);
  });

  // ---- ratio panel ----
  const gr = g.append("g").attr("clip-path", `url(#cr${i})`);
  gr.append("line")
    .attr("x1", x(p.unityFrom)).attr("x2", p.right).attr("y1", r(1)).attr("y2", r(1))
    .attr("stroke", "#5ee65e").attr("stroke-width", 1.2);
  gr.selectAll(null).data(p.ratioLow).join("path")
    .attr("d", d => {
      const cx = x(d[0]), cy = r(d[2]);
      let s = d[1] > 0 ? `M${x(d[0] - d[1])},${cy}H${x(d[0] + d[1])}` : `M${cx - 1},${cy}H${cx + 1}`;
      if (d[3] > 0) s += `M${cx},${r(d[2] + d[3])}V${r(d[2] - d[3])}`;
      return s;
    })
    .attr("fill", "none").attr("stroke", "#555").attr("stroke-width", 1.1);
  gr.selectAll(null).data(p.ratio).join("path")
    .attr("d", d => {
      const cx = x(d[0]), cy = r(d[1]);
      return `M${cx - 1.2},${cy}H${cx + 1.2}M${cx},${r(d[1] + d[2])}V${r(d[1] - d[2])}`;
    })
    .attr("fill", "none")
    .attr("stroke", (d, k) => (k % 3 === 0 || d[2] <= 0.1) ? "#111" : "#6a6a6a")
    .attr("stroke-width", 2);

  // ---- frame ----
  g.append("rect").attr("x", p.left).attr("y", p.top)
    .attr("width", p.right - p.left).attr("height", p.bottom - p.top)
    .attr("fill", "none").attr("stroke", FRAME).attr("stroke-width", 1);
  if (p.divider) {
    g.append("line").attr("x1", p.left).attr("x2", p.right).attr("y1", p.mid).attr("y2", p.mid)
      .attr("stroke", FRAME).attr("stroke-width", 1);
  }

  // ---- texts ----
  g.append("text").attr("x", p.idX).attr("y", p.idY).attr("font-size", 14).attr("fill", "#000").text(p.name);
  g.append("text").attr("x", p.modelX).attr("y", p.mid - 3).attr("font-size", 18.5).attr("fill", "#000").text(p.model);
}

panels.forEach(drawPanel);

// ---- axis titles ----
function fluxLabel(cx, cy) {
  const t = svg.append("text").attr("transform", `translate(${cx},${cy}) rotate(-90)`)
    .attr("text-anchor", "middle").attr("font-size", 21).attr("fill", "#000");
  const parts = [["keV", 0], ["2", 1], [" cm", 0], ["\u22122", 1], [" s", 0], ["\u22121", 1], [" keV", 0], ["\u22121", 1]];
  let up = false;
  parts.forEach(([s, sup]) => {
    const ts = t.append("tspan").text(s);
    if (sup) { ts.attr("font-size", 14); if (!up) { ts.attr("dy", -8); up = true; } }
    else if (up) { ts.attr("dy", 8); up = false; }
  });
}
[121, 400, 680].forEach(cy => fluxLabel(31, cy));
[253, 537, 818].forEach(cy => {
  svg.append("text").attr("transform", `translate(34,${cy}) rotate(-90)`)
    .attr("text-anchor", "middle").attr("font-size", 20).attr("fill", "#000").text("ratio");
});
[189, 560].forEach(cx => {
  svg.append("text").attr("x", cx).attr("y", 861.5).attr("text-anchor", "middle")
    .attr("font-size", 13.5).attr("fill", "#000").text("Energy (keV)");
});
</script>
</body>
</html>
